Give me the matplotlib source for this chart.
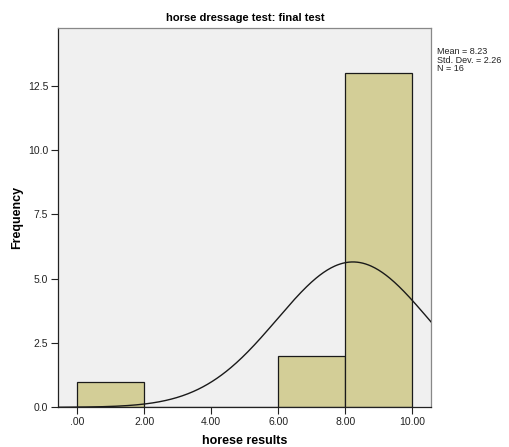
import numpy as np
import matplotlib
matplotlib.use("Agg")
import matplotlib.pyplot as plt

bin_edges = [0, 2, 4, 6, 8, 10]
counts = [1, 0, 0, 2, 13]
mean_val = 8.23
std_val = 2.26
n_val = 16
x_ticks = [0, 2, 4, 6, 8, 10]
x_tick_labels = [".00", "2.00", "4.00", "6.00", "8.00", "10.00"]
y_ticks = [0, 2.5, 5, 7.5, 10, 12.5]
y_tick_labels = ["0.0", "2.5", "5.0", "7.5", "10.0", "12.5"]

plt.rcParams['font.family'] = ['Liberation Sans', 'DejaVu Sans']

fig = plt.figure(figsize=(5.09, 4.47), dpi=100)
fig.patch.set_facecolor('white')
ax = fig.add_axes([58/509, 1-407.3/447, (431-58)/509, (407.3-28)/447])
ax.set_facecolor('#F0F0F0')

widths = np.diff(bin_edges)
ax.bar(bin_edges[:-1], counts, width=widths, align='edge', color='#D3CE97',
       edgecolor='#1a1a1a', linewidth=0.9, zorder=2)

xmin, xmax = -0.57, 10.56
xs = np.linspace(xmin, xmax, 400)
bw = bin_edges[1] - bin_edges[0]
ys = n_val * bw * np.exp(-0.5 * ((xs - mean_val) / std_val) ** 2) / (std_val * np.sqrt(2 * np.pi))
ax.plot(xs, ys, color='#1a1a1a', linewidth=1.0, zorder=3)

ax.set_xlim(xmin, xmax)
ax.set_ylim(0, 14.74)
ax.set_xticks(x_ticks)
ax.set_xticklabels(x_tick_labels)
ax.set_yticks(y_ticks)
ax.set_yticklabels(y_tick_labels)
ax.tick_params(direction='out', length=5, width=0.8, labelsize=7.5, colors='#222222', pad=2)

for s in ['left', 'bottom']:
    ax.spines[s].set_color('#222222')
    ax.spines[s].set_linewidth(0.9)
for s in ['top', 'right']:
    ax.spines[s].set_color('#888888')
    ax.spines[s].set_linewidth(0.9)

fig.text(245/509, 1-18/447, "horse dressage test: final test", fontsize=8, fontweight='bold',
         ha='center', va='center')
fig.text(245/509, 1-441/447, "horese results", fontsize=9, fontweight='bold',
         ha='center', va='center')
fig.text(17/509, 1-217/447, "Frequency", fontsize=9, fontweight='bold',
         ha='center', va='center', rotation=90)

fig.text(437/509, 1-47/447, f"Mean = {mean_val:.2f}\nStd. Dev. = {std_val:.2f}\nN = {n_val}",
         fontsize=6.5, va='top', ha='left', linespacing=0.95, color='#222222')

fig.savefig("out.png", dpi=100)
